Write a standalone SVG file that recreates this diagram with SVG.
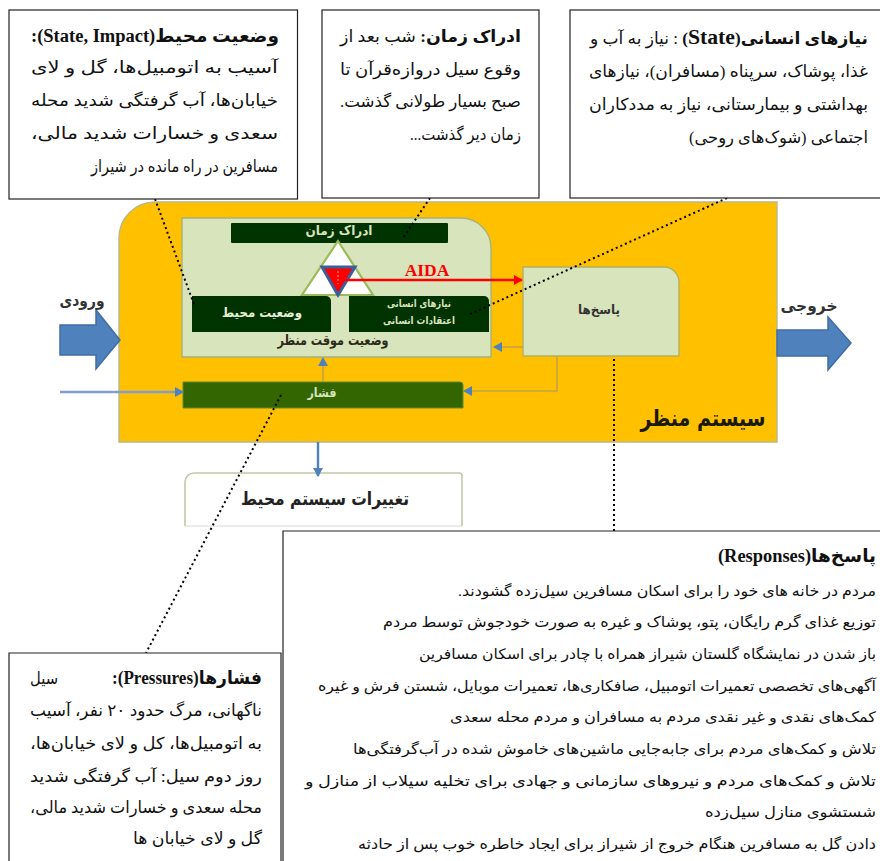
<svg xmlns="http://www.w3.org/2000/svg" width="880" height="861" viewBox="0 0 880 861">
<style>
text{font-family:"Liberation Serif","DejaVu Sans",sans-serif}
.t{font-size:16.5px;fill:#111;direction:rtl;text-anchor:start}
.r{font-size:14.5px;fill:#111;direction:rtl;text-anchor:start}
.b{font-weight:bold}
.box{fill:#fff;stroke:#222;stroke-width:1.2}
.dot{fill:none;stroke:#000;stroke-width:2;stroke-dasharray:2 3}
.thin{fill:none;stroke:#7f9fd0;stroke-width:2.6}
.gthin{fill:none;stroke:#c4a24a;stroke-width:1.6}
.lg{fill:#d8e4bc;stroke:#a7b37a;stroke-width:1.4}
.dk{fill:#003300}
.blk{fill:#4f81bd;stroke:#3f6ea3;stroke-width:1.5}
.c{font-family:"DejaVu Sans",sans-serif;text-anchor:middle;direction:rtl;font-weight:bold}
</style>
<defs>
<marker id="ab" markerUnits="userSpaceOnUse" markerWidth="9" markerHeight="10" refX="8" refY="5" orient="auto"><path d="M0 0L9 5L0 10Z" fill="#4f81bd"/></marker>
<marker id="ar" markerUnits="userSpaceOnUse" markerWidth="9" markerHeight="10" refX="8" refY="5" orient="auto"><path d="M0 0L9 5L0 10Z" fill="#f00"/></marker>
</defs>

<g id="system">
<path d="M155 202H777V442H119V238A36 36 0 0 1 155 202Z" fill="#ffc000" stroke="#b9b78a" stroke-width="1.4"/>
<text class="c" x="703" y="426" font-size="23" fill="#1a1a00" textLength="125" lengthAdjust="spacingAndGlyphs">سیستم منظر</text>
</g>
<g id="temp-state">
<path d="M182 218H461A30 30 0 0 1 491 248V357H182Z" class="lg"/>
<text class="c" x="333" y="345" font-size="14" fill="#2b2b1a" textLength="111" lengthAdjust="spacingAndGlyphs">وضعیت موقت منظر</text>
</g>
<g id="time">
<rect x="231" y="223" width="217" height="20" rx="1" class="dk"/>
<text class="c" x="339" y="235" font-size="12.500" fill="#d8e4bc" textLength="67" lengthAdjust="spacingAndGlyphs">ادراک زمان</text>
</g>
<g id="triangle">
<path d="M338 241L373 295H302Z" fill="#fff" stroke="#9bbb59" stroke-width="2.2"/>
<path d="M322 267H355L338 295Z" fill="#f00" stroke="#3a5f9a" stroke-width="3"/>
<path d="M338 271V284" stroke="#f5b0a0" stroke-width="1" stroke-dasharray="2 2"/>
</g>
<g id="env-state">
<path d="M192 296H326A5 5 0 0 1 331 301V332H192Z" class="dk"/>
<text class="c" x="262" y="317" font-size="13" fill="#e6eed6" textLength="80" lengthAdjust="spacingAndGlyphs">وضعیت محیط</text>
</g>
<g id="human-needs">
<path d="M349 296H484A5 5 0 0 1 489 301V332H349Z" class="dk"/>
<text class="c" x="419" y="307" font-size="10.500" fill="#d8e4bc" textLength="64" lengthAdjust="spacingAndGlyphs">نیازهای انسانی</text>
<text class="c" x="419" y="324" font-size="10.500" fill="#d8e4bc" textLength="72" lengthAdjust="spacingAndGlyphs">اعتقادات انسانی</text>
</g>
<g id="responses">
<path d="M523 267H664A15 15 0 0 1 679 282V356H523Z" fill="#d8e4bc" stroke="#b5b060" stroke-width="1.4"/>
<text class="c" x="599" y="314" font-size="12.500" fill="#333" textLength="42" lengthAdjust="spacingAndGlyphs">پاسخ‌ها</text>
</g>
<g id="pressure">
<path d="M183 382H460A3 3 0 0 1 463 385V408H183Z" fill="#336600" stroke="#5f8a30" stroke-width="1"/>
<text class="c" x="322" y="397" font-size="12.500" fill="#d8e4bc" textLength="29" lengthAdjust="spacingAndGlyphs">فشار</text>
</g>
<g id="env-change">
<path d="M185 526V482A9 9 0 0 1 194 473H459A3 3 0 0 1 462 476V526" fill="#fff" stroke="#c2c8a8" stroke-width="1.6"/>
<path d="M185 526H462" stroke="#d8d8d8" stroke-width="1"/>
<text class="c" x="325" y="505" font-size="18" fill="#222" textLength="168" lengthAdjust="spacingAndGlyphs">تغییرات سیستم محیط</text>
</g>
<g id="input">
<path d="M60 325H96V310L120 340L96 369V355H60Z" class="blk"/>
<text class="c" x="82" y="306" font-size="16" fill="#333" textLength="45" lengthAdjust="spacingAndGlyphs">ورودی</text>
</g>
<g id="output">
<path d="M777 330H828V317L851 343L828 370V356H777Z" class="blk"/>
<text class="c" x="809" y="311" font-size="16" fill="#333" textLength="57" lengthAdjust="spacingAndGlyphs">خروجی</text>
</g>

<g id="connectors">
<path d="M60 392H183" class="thin" marker-end="url(#ab)"/>
<path d="M323 381V358" class="gthin" marker-end="url(#ab)"/>
<path d="M523 347H494" class="gthin" marker-end="url(#ab)"/>
<path d="M557 356V391H464" class="gthin" marker-end="url(#ab)"/>
<path d="M345 280H522" fill="none" stroke="#f00" stroke-width="2.400" marker-end="url(#ar)"/>
<path d="M318 442V476" fill="none" stroke="#4f81bd" stroke-width="2.4" marker-end="url(#ab)"/>
<path d="M155 199L195 307" class="dot"/>
<path d="M430 198L403 238" class="dot"/>
<path d="M727 198L470 314" class="dot"/>
<path d="M614 359V531" class="dot"/>
<path d="M281 395L146 653" class="dot"/>
</g>
<text x="427" y="276" font-size="17.500" font-weight="bold" fill="#f00" text-anchor="middle">AIDA</text>

<g id="box-state-impact">
<rect x="9" y="10" width="288.500" height="189" class="box"/>
<text class="t b" x="279" y="42" textLength="248" lengthAdjust="spacingAndGlyphs" font-size="18" style="font-size:18px">وضعیت محیط(State, Impact):</text>
<text class="t" x="278" y="73" textLength="247" lengthAdjust="spacingAndGlyphs">آسیب به اتومبیل‌ها، گل و لای</text>
<text class="t" x="278" y="106" textLength="247" lengthAdjust="spacingAndGlyphs">خیابان‌ها، آب گرفتگی شدید محله</text>
<text class="t" x="278" y="139" textLength="247" lengthAdjust="spacingAndGlyphs">سعدی و خسارات شدید مالی،</text>
<text class="t" x="278" y="172" textLength="187" lengthAdjust="spacingAndGlyphs">مسافرین در راه مانده در شیراز</text>
</g>
<g id="box-time">
<rect x="322" y="10" width="217" height="188" class="box"/>
<text class="t" x="521" y="42" textLength="181" lengthAdjust="spacingAndGlyphs"><tspan class="b">ادراک زمان:</tspan> شب بعد از</text>
<text class="t" x="521" y="75" textLength="181" lengthAdjust="spacingAndGlyphs">وقوع سیل دروازه‌قرآن تا</text>
<text class="t" x="521" y="107" textLength="181" lengthAdjust="spacingAndGlyphs">صبح بسیار طولانی گذشت.</text>
<text class="t" x="521" y="140" textLength="111" lengthAdjust="spacingAndGlyphs">زمان دیر گذشت...</text>
</g>
<g id="box-needs">
<rect x="570" y="10" width="315" height="188" class="box"/>
<text class="t" x="868" y="44" textLength="278" lengthAdjust="spacingAndGlyphs"><tspan class="b">نیازهای انسانی(<tspan style="font-size:21px">State</tspan>)</tspan> : نیاز به آب و</text>
<text class="t" x="868" y="77" textLength="279" lengthAdjust="spacingAndGlyphs">غذا، پوشاک، سرپناه (مسافران)، نیازهای</text>
<text class="t" x="868" y="110" textLength="279" lengthAdjust="spacingAndGlyphs">بهداشتی و بیمارستانی، نیاز به مددکاران</text>
<text class="t" x="868" y="143" textLength="179" lengthAdjust="spacingAndGlyphs">اجتماعی (شوک‌های روحی)</text>
</g>
<g id="box-pressures">
<path d="M9 861V653H281V861" class="box"/>
<text class="t b" x="262" y="684" textLength="150" lengthAdjust="spacingAndGlyphs" style="font-size:18px">فشارها(Pressures):</text>
<text class="t" x="58" y="684" textLength="28" lengthAdjust="spacingAndGlyphs">سیل</text>
<text class="t" x="262" y="716" textLength="232" lengthAdjust="spacingAndGlyphs">ناگهانی، مرگ حدود ۲۰ نفر، آسیب</text>
<text class="t" x="262" y="749" textLength="232" lengthAdjust="spacingAndGlyphs">به اتومبیل‌ها، کل و لای خیابان‌ها،</text>
<text class="t" x="262" y="782" textLength="232" lengthAdjust="spacingAndGlyphs">روز دوم سیل: آب گرفتگی شدید</text>
<text class="t" x="262" y="813" textLength="232" lengthAdjust="spacingAndGlyphs">محله سعدی و خسارات شدید مالی،</text>
<text class="t" x="262" y="844" textLength="129" lengthAdjust="spacingAndGlyphs">گل و لای خیابان ها</text>
</g>
<g id="box-responses">
<path d="M885 531H283V861" class="box"/>
<text class="t b" x="876" y="562" textLength="158" lengthAdjust="spacingAndGlyphs" style="font-size:18px">پاسخ‌ها(Responses)</text>
<text class="r" x="876" y="596" textLength="418" lengthAdjust="spacingAndGlyphs">مردم در خانه های خود را برای اسکان مسافرین سیل‌زده گشودند.</text>
<text class="r" x="876" y="627" textLength="493" lengthAdjust="spacingAndGlyphs">توزیع غذای گرم رایگان، پتو، پوشاک و غیره به صورت خودجوش توسط مردم</text>
<text class="r" x="876" y="659" textLength="457" lengthAdjust="spacingAndGlyphs">باز شدن در نمایشگاه گلستان شیراز همراه با چادر برای اسکان مسافرین</text>
<text class="r" x="876" y="691" textLength="558" lengthAdjust="spacingAndGlyphs">آگهی‌های تخصصی تعمیرات اتومبیل، صافکاری‌ها، تعمیرات موبایل، شستن فرش و غیره</text>
<text class="r" x="876" y="722" textLength="426" lengthAdjust="spacingAndGlyphs">کمک‌های نقدی و غیر نقدی مردم به مسافران و مردم محله سعدی</text>
<text class="r" x="876" y="754" textLength="523" lengthAdjust="spacingAndGlyphs">تلاش و کمک‌های مردم برای جابه‌جایی ماشین‌های خاموش شده در آب‌گرفتگی‌ها</text>
<text class="r" x="876" y="786" textLength="571" lengthAdjust="spacingAndGlyphs">تلاش و کمک‌های مردم و نیروهای سازمانی و جهادی برای تخلیه سیلاب از منازل و</text>
<text class="r" x="876" y="817" textLength="171" lengthAdjust="spacingAndGlyphs">شستشوی منازل سیل‌زده</text>
<text class="r" x="876" y="849" textLength="518" lengthAdjust="spacingAndGlyphs">دادن گل به مسافرین هنگام خروج از شیراز برای ایجاد خاطره خوب پس از حادثه</text>
</g>
</svg>
